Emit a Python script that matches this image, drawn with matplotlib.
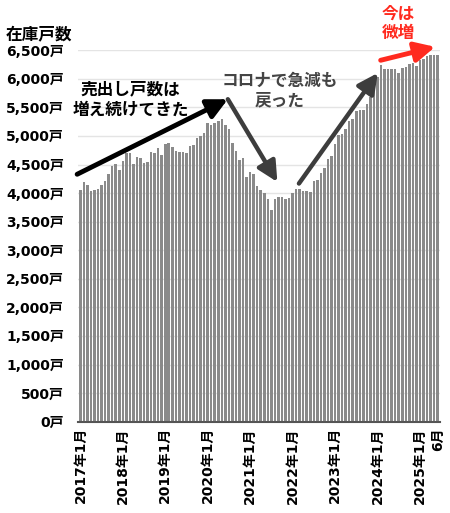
import matplotlib.pyplot as plt
import numpy as np

plt.rcParams['font.family'] = ['DejaVu Sans', 'Noto Sans CJK JP']

# monthly stock counts, 2017-01 .. 2025-06
stock_2017 = [4060, 4195, 4135, 4030, 4060, 4080, 4145, 4215, 4335, 4470, 4510, 4400]
stock_2018 = [4570, 4695, 4710, 4515, 4635, 4615, 4530, 4550, 4725, 4700, 4785, 4660]
stock_2019 = [4860, 4870, 4805, 4730, 4720, 4715, 4710, 4830, 4845, 4960, 5000, 5050]
stock_2020 = [5230, 5185, 5225, 5260, 5300, 5195, 5130, 4870, 4730, 4580, 4610, 4275]
stock_2021 = [4375, 4340, 4120, 4050, 3995, 3905, 3700, 3890, 3930, 3940, 3895, 3920]
stock_2022 = [4010, 4065, 4075, 4045, 4035, 4020, 4220, 4235, 4360, 4445, 4590, 4645]
stock_2023 = [4855, 5025, 5040, 5130, 5265, 5295, 5435, 5450, 5455, 5565, 5680, 5800]
stock_2024 = [6035, 6245, 6180, 6165, 6180, 6165, 6100, 6190, 6210, 6265, 6270, 6220]
stock_2025 = [6325, 6340, 6395, 6425, 6425, 6415]

stock = (stock_2017 + stock_2018 + stock_2019 + stock_2020 + stock_2021
         + stock_2022 + stock_2023 + stock_2024 + stock_2025)

tick_pos = [0, 12, 24, 36, 48, 60, 72, 84, 96, 101]
tick_labels = ["2017年1月", "2018年1月", "2019年1月", "2020年1月", "2021年1月",
               "2022年1月", "2023年1月", "2024年1月", "2025年1月", "6月"]
y_ticks = list(range(0, 7000, 500))

fig = plt.figure(figsize=(4.5, 5.13), dpi=100)
ax = fig.add_axes((0.173, 0.178, 0.805, 0.724))

x = np.arange(len(stock))
ax.bar(x, stock, width=0.72, color="#8a8a8a", zorder=2)

ax.set_xlim(-0.7, len(stock) - 0.3)
ax.set_ylim(0, 6500)
ax.set_yticks(y_ticks)
ax.set_yticklabels([f"{v:,}戸" for v in y_ticks], fontsize=10, fontweight="bold")
ax.set_xticks(tick_pos)
ax.set_xticklabels(tick_labels, rotation=90, fontsize=10, fontweight="bold")
ax.tick_params(axis="both", length=0)
ax.tick_params(axis="y", pad=10)
ax.tick_params(axis="x", pad=4)

ax.grid(True, axis="y", color="#e4e4e4", lw=1, zorder=0)
for s in ["top", "right", "left"]:
    ax.spines[s].set_visible(False)
ax.spines["bottom"].set_color("#555555")
ax.spines["bottom"].set_linewidth(1.5)
ax.spines["bottom"].set_zorder(3)

fig.text(6 / 450, 1 - 34 / 513, "在庫戸数", fontsize=12, fontweight="bold",
         ha="left", va="center", family=["Noto Sans CJK JP"])


def arrow(start, end, color, lw):
    ax.annotate("", xy=end, xytext=start, annotation_clip=False,
                arrowprops=dict(arrowstyle="-|>,head_length=1.1,head_width=0.55",
                                lw=lw, color=color, mutation_scale=11,
                                shrinkA=0, shrinkB=0), zorder=5)


arrow((-0.9, 4330), (41.7, 5643), "#000000", 3.5)
arrow((41.7, 5643), (55.7, 4195), "#3d3d3d", 3.2)
arrow((61.8, 4168), (84.1, 6103), "#3d3d3d", 3.2)
arrow((84.9, 6325), (100.3, 6560), "#ff2a1f", 3.5)

txt = dict(fontsize=12, fontweight="bold", ha="center", va="center",
           linespacing=1.15, family=["Noto Sans CJK JP"], zorder=6,
           annotation_clip=False)
ax.annotate("売出し戸数は\n増え続けてきた", (14.2, 5640), color="#000000", **txt)
ax.annotate("コロナで急減も\n戻った", (56.3, 5790), color="#444444", **txt)
ax.annotate("今は\n微増", (90.0, 6970), color="#ff2a1f", **txt)

fig.savefig("out.png", dpi=100)
